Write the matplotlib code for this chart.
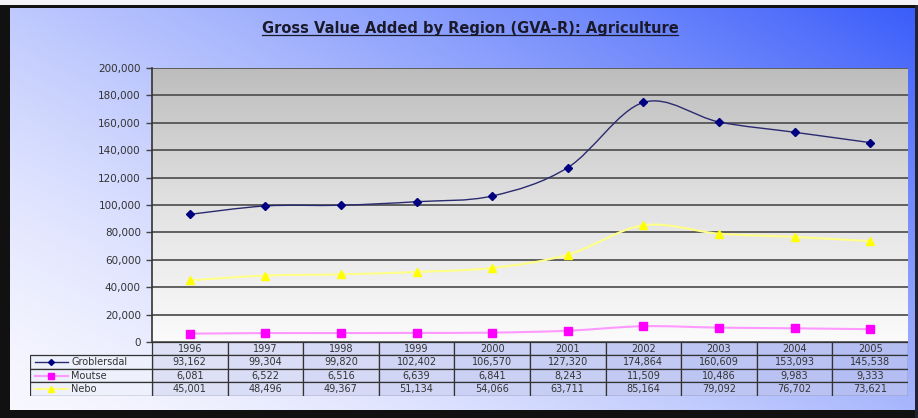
import numpy as np
import matplotlib.pyplot as plt
from matplotlib.path import Path
from matplotlib.patches import PathPatch, Rectangle
from matplotlib.lines import Line2D
from matplotlib.colors import LinearSegmentedColormap

# data
years = ['1996', '1997', '1998', '1999', '2000', '2001', '2002', '2003', '2004', '2005']
groblersdal = [93162, 99304, 99820, 102402, 106570, 127320, 174864, 160609, 153093, 145538]
moutse = [6081, 6522, 6516, 6639, 6841, 8243, 11509, 10486, 9983, 9333]
nebo = [45001, 48496, 49367, 51134, 54066, 63711, 85164, 79092, 76702, 73621]
series_names = ['Groblersdal', 'Moutse', 'Nebo']
y_ticks = list(range(0, 200001, 20000))
title = 'Gross Value Added by Region (GVA-R): Agriculture'

styles = [
    dict(line='#2a2a70', lw=1.0, marker='D', mfc='#000080', ms=4.5),
    dict(line='#ff99ff', lw=1.5, marker='s', mfc='#ff00ff', ms=6),
    dict(line='#ffff88', lw=1.5, marker='^', mfc='#ffff00', ms=6),
]

W, H = 918, 418
fig = plt.figure(figsize=(W / 100, H / 100), dpi=100)


def fbox(x0, y0, x1, y1):
    # pixel box (top-left origin) -> figure fraction rect
    return [x0 / W, 1 - y1 / H, (x1 - x0) / W, (y1 - y0) / H]


# background gradient + frame
bg = fig.add_axes([0, 0, 1, 1], zorder=-10)
yy, xx = np.mgrid[0:H, 0:W]
t = (0.55 * xx / W + 0.45 * (1 - yy / H)) ** 1.5
c0 = np.array([248, 248, 255]) / 255
c1 = np.array([55, 90, 250]) / 255
img = c0 + (c1 - c0) * t[..., None]
bg.imshow(img, extent=[0, W, H, 0], aspect='auto')
bg.set_xlim(0, W)
bg.set_ylim(H, 0)
bg.axis('off')
bg.add_patch(Rectangle((0, 0), W, 5, color='#f4f4f8', lw=0))
bg.add_patch(Rectangle((0, 5), W, 3, color='#111111', lw=0))
bg.add_patch(Rectangle((0, 5), 10, H, color='#111111', lw=0))
bg.add_patch(Rectangle((0, 410), W, 8, color='#111111', lw=0))
bg.add_patch(Rectangle((915, 5), 3, H, color='#222233', lw=0))


def smooth_path(xs, ys):
    xs = np.asarray(xs, float)
    ys = np.asarray(ys, float)
    n = len(xs)
    verts = [(xs[0], ys[0])]
    codes = [Path.MOVETO]
    for i in range(n - 1):
        xp, yp = (xs[i - 1], ys[i - 1]) if i > 0 else (xs[i], ys[i])
        xn, yn = (xs[i + 2], ys[i + 2]) if i + 2 < n else (xs[i + 1], ys[i + 1])
        c1_ = (xs[i] + (xs[i + 1] - xp) / 6, ys[i] + (ys[i + 1] - yp) / 6)
        c2_ = (xs[i + 1] - (xn - xs[i]) / 6, ys[i + 1] - (yn - ys[i]) / 6)
        verts += [c1_, c2_, (xs[i + 1], ys[i + 1])]
        codes += [Path.CURVE4] * 3
    return Path(verts, codes)


# main plot
ax = fig.add_axes(fbox(152, 68, 908, 342))
x = np.arange(len(years))
ax.set_xlim(-0.5, len(years) - 0.5)
ax.set_ylim(0, 200000)
grad = np.linspace(0, 1, 256)[:, None]
gray = LinearSegmentedColormap.from_list('g', ['#fbfbfb', '#e2e2e2', '#bdbdbd'])
ax.imshow(grad, extent=[-0.5, len(years) - 0.5, 0, 200000], aspect='auto',
          cmap=gray, origin='lower', zorder=0)
ax.set_yticks(y_ticks)
ax.set_yticklabels(['{:,}'.format(v) for v in y_ticks])
ax.set_xticks([])
ax.yaxis.grid(True, color='#555555', lw=1.3)
ax.set_axisbelow(False)
for gl in ax.get_ygridlines():
    gl.set_zorder(1)
ax.tick_params(axis='y', direction='out', length=4, width=1, color='#444444',
               labelsize=7.5, labelcolor='#333333', pad=4)
for s in ['top', 'right', 'bottom']:
    ax.spines[s].set_visible(False)
ax.spines['left'].set_color('#333333')
ax.spines['left'].set_linewidth(1.2)
ax.spines['left'].set_zorder(5)

for vals, st in zip([groblersdal, moutse, nebo], styles):
    ax.add_patch(PathPatch(smooth_path(x, vals), fill=False, edgecolor=st['line'],
                           lw=st['lw'], zorder=3))
    ax.plot(x, vals, ls='none', marker=st['marker'], mfc=st['mfc'], mec=st['mfc'],
            ms=st['ms'], zorder=4, clip_on=False)

# data table
tx0, tx1, ty0, ty1 = 30, 908, 342, 396
tab = fig.add_axes(fbox(tx0, ty0, tx1, ty1))
tab.set_xlim(tx0, tx1)
tab.set_ylim(ty1, ty0)
tab.axis('off')
lab_w = 152 - tx0
col_w = (tx1 - 152) / len(years)
row_h = (ty1 - ty0) / 4
cell_l = np.array([222, 225, 246]) / 255
cell_r = np.array([180, 190, 242]) / 255
edge = '#333333'
rows = [groblersdal, moutse, nebo]

for j in range(len(years)):
    cx = 152 + j * col_w
    f = j / (len(years) - 1)
    col = cell_l + (cell_r - cell_l) * f
    for r in range(4):
        tab.add_patch(Rectangle((cx, ty0 + r * row_h), col_w, row_h, facecolor=col,
                                edgecolor=edge, lw=0.9))
    tab.text(cx + col_w / 2, ty0 + 0.5 * row_h, years[j], ha='center', va='center',
             fontsize=7, color='#333333')
    for r, vals in enumerate(rows):
        tab.text(cx + col_w / 2, ty0 + (r + 1.5) * row_h, '{:,}'.format(vals[j]),
                 ha='center', va='center', fontsize=7, color='#333333')

for r, (name, st) in enumerate(zip(series_names, styles)):
    yc = ty0 + (r + 1.5) * row_h
    tab.add_patch(Rectangle((tx0, ty0 + (r + 1) * row_h), lab_w, row_h,
                            facecolor='#eef0fb', edgecolor=edge, lw=0.9))
    tab.plot([35, 68], [yc, yc], color=st['line'], lw=st['lw'])
    tab.plot([51], [yc], marker=st['marker'], mfc=st['mfc'], mec=st['mfc'],
             ms=st['ms'] - 1.5)
    tab.text(71, yc, name, ha='left', va='center', fontsize=7, color='#333333')

# title with underline
ttl = fig.text(470 / W, 1 - 29 / H, title, ha='center', va='center', fontsize=10.5,
               fontweight='bold', color='#1a1a2a')
fig.canvas.draw()
bb = ttl.get_window_extent(fig.canvas.get_renderer())
uy = bb.y0 + 1.5
fig.add_artist(Line2D([bb.x0, bb.x1], [uy, uy], transform=None, color='#1a1a2a', lw=0.9))

fig.savefig('out.png', dpi=100)
